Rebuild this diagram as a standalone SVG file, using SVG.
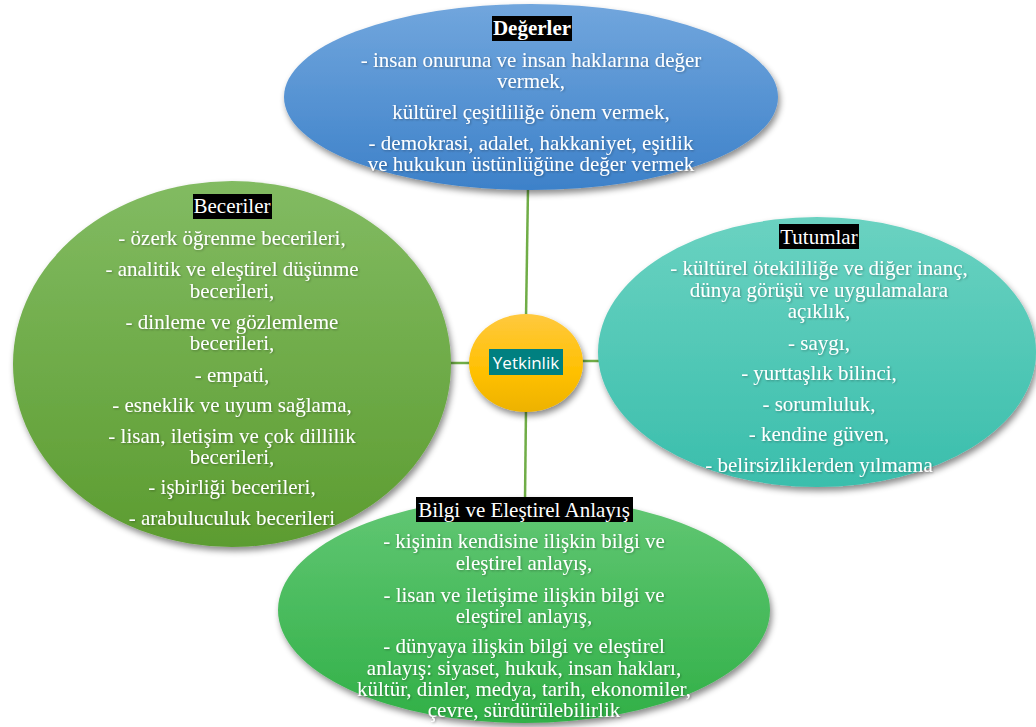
<svg xmlns="http://www.w3.org/2000/svg" width="1036" height="727" viewBox="0 0 1036 727">
<defs>
<linearGradient id="gBlue" x1="0" y1="0" x2="0" y2="1"><stop offset="0" stop-color="#71A6DD"/><stop offset="1" stop-color="#3D81C9"/></linearGradient>
<linearGradient id="gGreen" x1="0" y1="0" x2="0" y2="1"><stop offset="0" stop-color="#82BB62"/><stop offset="1" stop-color="#5C9C30"/></linearGradient>
<linearGradient id="gTeal" x1="0" y1="0" x2="0" y2="1"><stop offset="0" stop-color="#6AD2C1"/><stop offset="1" stop-color="#3ABEAC"/></linearGradient>
<linearGradient id="gLime" x1="0" y1="0" x2="0" y2="1"><stop offset="0" stop-color="#62C774"/><stop offset="1" stop-color="#31B047"/></linearGradient>
<linearGradient id="gYellow" x1="0" y1="0" x2="0" y2="1"><stop offset="0" stop-color="#FFC93F"/><stop offset="0.6" stop-color="#FFC000"/><stop offset="1" stop-color="#EDB200"/></linearGradient>
<filter id="shadow" x="-10%" y="-10%" width="125%" height="130%"><feDropShadow dx="2" dy="4" stdDeviation="3" flood-color="#000" flood-opacity="0.45"/></filter>
<filter id="tshadow" x="-5%" y="-20%" width="110%" height="150%"><feDropShadow dx="1" dy="1" stdDeviation="0.8" flood-color="#000" flood-opacity="0.3"/></filter>
</defs>
<style>
.t{font-family:"Liberation Serif","Times New Roman",serif;font-size:21px;fill:#fff;text-anchor:middle}
.h{font-family:"Liberation Serif","Times New Roman",serif;font-size:21px;fill:#fff;text-anchor:middle}
.hb{fill:#000}
.conn{stroke:#70AD47;stroke-width:2.5;fill:none}
</style>
<rect width="1036" height="727" fill="#fff"/>
<g id="connectors">
<line class="conn" x1="528" y1="188" x2="526" y2="318"/>
<line class="conn" x1="526" y1="408" x2="525" y2="500"/>
<line class="conn" x1="449" y1="363" x2="472" y2="363"/>
<line class="conn" x1="580" y1="361" x2="601" y2="361"/>
</g>
<g id="node-degerler">
<ellipse cx="531" cy="97" rx="247" ry="93" fill="url(#gBlue)" filter="url(#shadow)"/>
<rect class="hb" x="492" y="16" width="80" height="25"/>
<text class="h" x="532" y="35" font-weight="bold">Değerler</text>
<g filter="url(#tshadow)">
<text class="t" x="531" y="67">- insan onuruna ve insan haklarına değer</text>
<text class="t" x="531" y="88">vermek,</text>
<text class="t" x="531" y="119">kültürel çeşitliliğe önem vermek,</text>
<text class="t" x="531" y="150">- demokrasi, adalet, hakkaniyet, eşitlik</text>
<text class="t" x="531" y="171">ve hukukun üstünlüğüne değer vermek</text>
</g>
</g>
<g id="node-beceriler">
<ellipse cx="232" cy="364" rx="219" ry="183" fill="url(#gGreen)" filter="url(#shadow)"/>
<rect class="hb" x="193" y="194" width="79" height="25"/>
<text class="h" x="232" y="213">Beceriler</text>
<g filter="url(#tshadow)">
<text class="t" x="232" y="245">- özerk öğrenme becerileri,</text>
<text class="t" x="232" y="276">- analitik ve eleştirel düşünme</text>
<text class="t" x="232" y="298">becerileri,</text>
<text class="t" x="232" y="329">- dinleme ve gözlemleme</text>
<text class="t" x="232" y="350">becerileri,</text>
<text class="t" x="232" y="382">- empati,</text>
<text class="t" x="232" y="412">- esneklik ve uyum sağlama,</text>
<text class="t" x="232" y="443">- lisan, iletişim ve çok dillilik</text>
<text class="t" x="232" y="464">becerileri,</text>
<text class="t" x="232" y="494">- işbirliği becerileri,</text>
<text class="t" x="232" y="525">- arabuluculuk becerileri</text>
</g>
</g>
<g id="node-tutumlar">
<ellipse cx="817" cy="352" rx="219" ry="135" fill="url(#gTeal)" filter="url(#shadow)"/>
<rect class="hb" x="779" y="224" width="80" height="25"/>
<text class="h" x="819" y="244">Tutumlar</text>
<g filter="url(#tshadow)">
<text class="t" x="819" y="275">- kültürel ötekililiğe ve diğer inanç,</text>
<text class="t" x="819" y="297">dünya görüşü ve uygulamalara</text>
<text class="t" x="819" y="318">açıklık,</text>
<text class="t" x="819" y="350">- saygı,</text>
<text class="t" x="819" y="380">- yurttaşlık bilinci,</text>
<text class="t" x="819" y="411">- sorumluluk,</text>
<text class="t" x="819" y="441">- kendine güven,</text>
<text class="t" x="819" y="472">- belirsizliklerden yılmama</text>
</g>
</g>
<g id="node-bilgi">
<ellipse cx="524" cy="610" rx="246" ry="113" fill="url(#gLime)" filter="url(#shadow)"/>
<rect class="hb" x="416" y="497" width="217" height="25"/>
<text class="h" x="524" y="517">Bilgi ve Eleştirel Anlayış</text>
<g filter="url(#tshadow)">
<text class="t" x="524" y="548">- kişinin kendisine ilişkin bilgi ve</text>
<text class="t" x="524" y="570">eleştirel anlayış,</text>
<text class="t" x="524" y="602">- lisan ve iletişime ilişkin bilgi ve</text>
<text class="t" x="524" y="623">eleştirel anlayış,</text>
<text class="t" x="524" y="653">- dünyaya ilişkin bilgi ve eleştirel</text>
<text class="t" x="524" y="675">anlayış: siyaset, hukuk, insan hakları,</text>
<text class="t" x="524" y="696">kültür, dinler, medya, tarih, ekonomiler,</text>
<text class="t" x="524" y="717">çevre, sürdürülebilirlik</text>
</g>
</g>
<g id="node-yetkinlik">
<ellipse cx="526" cy="363" rx="57" ry="49" fill="url(#gYellow)" filter="url(#shadow)"/>
<rect x="489" y="349" width="74" height="26" fill="#008080"/>
<text x="526" y="369" font-family="'Open Sans','Noto Sans',sans-serif" font-size="17" fill="#fff" text-anchor="middle">Yetkinlik</text>
</g>
</svg>
